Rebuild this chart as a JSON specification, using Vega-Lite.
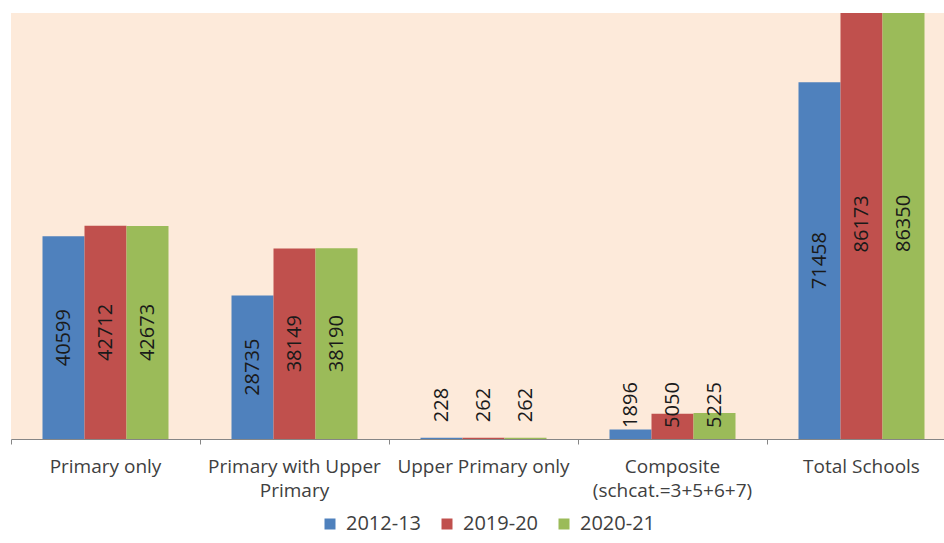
{
  "$schema": "https://vega.github.io/schema/vega-lite/v6.json",
  "width": 945,
  "height": 426,
  "autosize": "none",
  "padding": {"left": 11, "top": 13, "right": 0, "bottom": 104},
  "background": "white",
  "config": {"view": {"fill": "#FDEADA", "stroke": null}, "font": "Open Sans"},
  "data": {"values": [
    {"category": "Primary only", "year": "2012-13", "value": 40599},
    {"category": "Primary only", "year": "2019-20", "value": 42712},
    {"category": "Primary only", "year": "2020-21", "value": 42673},
    {"category": "Primary with Upper|Primary", "year": "2012-13", "value": 28735},
    {"category": "Primary with Upper|Primary", "year": "2019-20", "value": 38149},
    {"category": "Primary with Upper|Primary", "year": "2020-21", "value": 38190},
    {"category": "Upper Primary only", "year": "2012-13", "value": 228},
    {"category": "Upper Primary only", "year": "2019-20", "value": 262},
    {"category": "Upper Primary only", "year": "2020-21", "value": 262},
    {"category": "Composite|(schcat.=3+5+6+7)", "year": "2012-13", "value": 1896},
    {"category": "Composite|(schcat.=3+5+6+7)", "year": "2019-20", "value": 5050},
    {"category": "Composite|(schcat.=3+5+6+7)", "year": "2020-21", "value": 5225},
    {"category": "Total Schools", "year": "2012-13", "value": 71458},
    {"category": "Total Schools", "year": "2019-20", "value": 86173},
    {"category": "Total Schools", "year": "2020-21", "value": 86350}
  ]},
  "encoding": {
    "x": {
      "field": "category", "type": "nominal",
      "sort": ["Primary only", "Primary with Upper|Primary", "Upper Primary only", "Composite|(schcat.=3+5+6+7)", "Total Schools"],
      "scale": {"paddingInner": 0, "paddingOuter": 0},
      "title": null,
      "axis": {
        "labelAngle": 0,
        "labelExpr": "split(datum.label, '|')",
        "labelLineHeight": 24,
        "labelFontSize": 19,
        "labelLimit": 300,
        "labelOverlap": false,
        "labelColor": "#404040",
        "labelPadding": 13,
        "domainColor": "#868686",
        "tickColor": "#868686",
        "tickSize": 5,
        "bandPosition": 0,
        "grid": false,
        "zindex": 1
      }
    },
    "xOffset": {"field": "year", "type": "nominal", "scale": {"paddingInner": 0, "paddingOuter": 0.75}}
  },
  "layer": [
    {
      "mark": {"type": "bar", "clip": true},
      "encoding": {
        "y": {"field": "value", "type": "quantitative", "scale": {"domain": [0, 85330], "nice": false}, "axis": null},
        "color": {
          "field": "year", "type": "nominal",
          "scale": {"domain": ["2012-13", "2019-20", "2020-21"], "range": ["#4F81BD", "#C0504D", "#9BBB59"]},
          "legend": {
            "orient": "none", "legendX": 309, "legendY": 501, "direction": "horizontal",
            "title": null, "symbolType": "square", "symbolSize": 121, "symbolStrokeWidth": 0,
            "labelFontSize": 20, "labelColor": "#404040", "columnPadding": 15, "labelOffset": 6
          }
        }
      }
    },
    {
      "transform": [{"filter": "datum.value >= 10000"}],
      "mark": {"type": "text", "angle": 270, "align": "center", "baseline": "middle", "fontSize": 20, "color": "#1a1a1a"},
      "encoding": {
        "y": {"field": "value", "type": "quantitative", "scale": {"domain": [0, 170660], "nice": false}, "axis": null},
        "text": {"field": "value", "type": "quantitative", "format": "d"}
      }
    },
    {
      "transform": [{"filter": "datum.value < 10000"}],
      "mark": {"type": "text", "angle": 270, "align": "center", "baseline": "middle", "fontSize": 20, "color": "#1a1a1a"},
      "encoding": {
        "y": {"datum": 6800, "type": "quantitative", "scale": {"domain": [0, 85330], "nice": false}, "axis": null},
        "text": {"field": "value", "type": "quantitative", "format": "d"}
      }
    }
  ],
  "resolve": {"scale": {"y": "independent"}}
}
